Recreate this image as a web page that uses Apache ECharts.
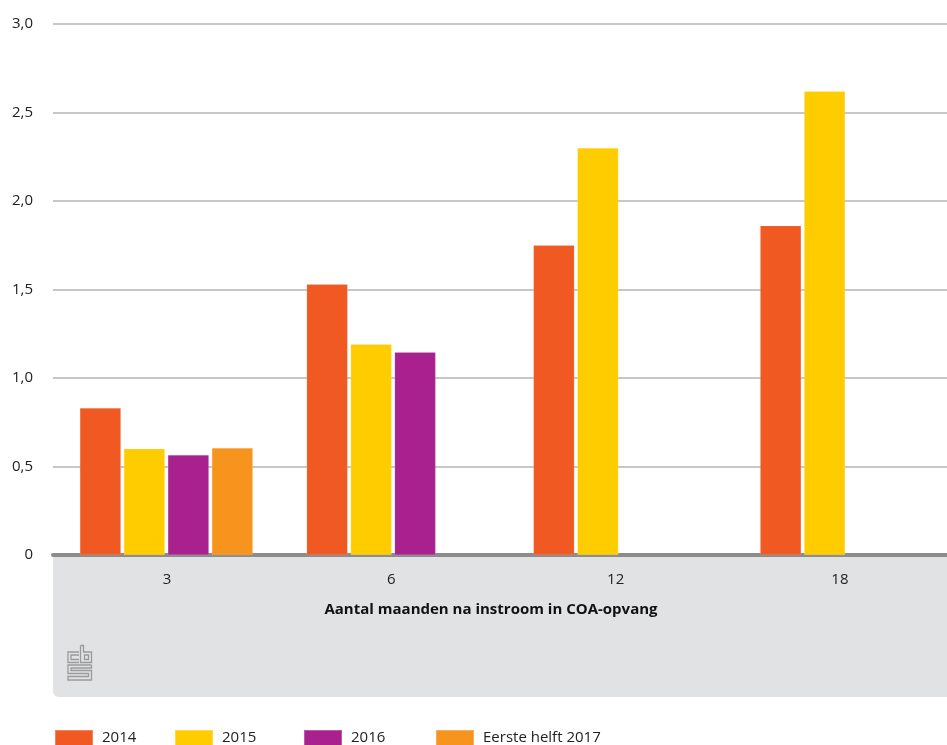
<!DOCTYPE html>
<html><head><meta charset="utf-8">
<script src="https://cdn.jsdelivr.net/npm/echarts@6/dist/echarts.min.js"></script>
<style>html,body{margin:0;padding:0;background:#fff}#c{width:947px;height:745px}</style>
</head><body><div id="c"></div>
<script>
const categories = ['3', '6', '12', '18'];
const s2014 = [0.83, 1.53, 1.75, 1.86];
const s2015 = [0.60, 1.19, 2.30, 2.62];
const s2016 = [0.565, 1.145, null, null];
const s2017 = [0.605, null, null, null];
const seriesNames = ['2014', '2015', '2016', 'Eerste helft 2017'];
const yTicks = [0, 0.5, 1.0, 1.5, 2.0, 2.5, 3.0];
const axisTitle = 'Aantal maanden na instroom in COA-opvang';

const colors = ['#f05a22', '#ffcc00', '#a8218e', '#f7941d'];
const font = '"Open Sans", Roboto, sans-serif';
const chart = echarts.init(document.getElementById('c'), null, {renderer: 'canvas'});
const data = [s2014, s2015, s2016, s2017];
const legendLefts = [54, 174, 303, 435];

const gray = '#e1e2e4';
const logoStroke = '#9a9a9a';
chart.setOption({
  animation: false,
  grid: [
    {left: 53, top: 24, width: 907, height: 531, containLabel: false, outerBoundsMode: 'none'},
    {left: 55, top: 24, width: 897, height: 531, containLabel: false, outerBoundsMode: 'none'}
  ],
  legend: seriesNames.map((n, i) => ({
    data: [n], left: legendLefts[i], top: 729, itemWidth: 38, itemHeight: 16, itemGap: 9, padding: 0,
    icon: 'rect', selectedMode: false,
    textStyle: {fontFamily: font, fontSize: 15, color: '#222', padding: [0, 0, 0, 4]}
  })),
  xAxis: [{
    type: 'category', data: categories, gridIndex: 0,
    axisLine: {show: true, lineStyle: {color: '#8c8c8c', width: 4}},
    axisTick: {show: false},
    axisLabel: {show: false}
  }, {
    type: 'category', data: categories, gridIndex: 1,
    axisLine: {show: false}, axisTick: {show: false}, splitLine: {show: false},
    axisLabel: {fontFamily: font, fontSize: 15, color: '#222', margin: 17}
  }],
  yAxis: [{
    type: 'value', min: 0, max: 3, interval: 0.5, gridIndex: 0,
    axisLine: {show: false}, axisTick: {show: false},
    splitLine: {lineStyle: {color: '#b5b5b5', width: 1.5}},
    axisLabel: {fontFamily: font, fontSize: 15, color: '#222', margin: 20,
      formatter: v => v === 0 ? '0' : (yTicks.includes(v) ? v.toFixed(1).replace('.', ',') : '')}
  }, {
    type: 'value', min: 0, max: 3, gridIndex: 1, show: false
  }],
  series: data.map((d, i) => ({
    name: seriesNames[i], type: 'bar', data: d, barWidth: 41, barGap: '7.3%',
    xAxisIndex: 0, yAxisIndex: 0,
    itemStyle: {color: colors[i], borderColor: 'rgba(255,255,255,0.25)', borderWidth: 0.5}
  })),
  graphic: [
    {type: 'rect', z: -10, shape: {x: 53, y: 557, width: 920, height: 140, r: [0, 0, 0, 6]}, style: {fill: gray}, silent: true},
    {type: 'text', z: 10, style: {text: axisTitle, x: 491, y: 610, align: 'center', verticalAlign: 'middle',
      font: 'bold 15px "Open Sans", sans-serif', fill: '#111'}},
    {type: 'group', z: 10, silent: true, children: [
      {type: 'polyline', shape: {points: [[79, 652], [68, 652], [68, 662.5], [79, 662.5]]}, style: {stroke: logoStroke, lineWidth: 1.3, fill: null}},
      {type: 'polyline', shape: {points: [[79, 655], [71, 655], [71, 659.5], [79, 659.5]]}, style: {stroke: logoStroke, lineWidth: 1.3, fill: null}},
      {type: 'polyline', shape: {points: [[80.5, 645.5], [80.5, 662.5], [91.5, 662.5], [91.5, 652], [83.5, 652], [83.5, 645.5], [80.5, 645.5]]}, style: {stroke: logoStroke, lineWidth: 1.3, fill: null}},
      {type: 'rect', shape: {x: 84.5, y: 655, width: 4, height: 4.5}, style: {stroke: logoStroke, lineWidth: 1.3, fill: null}},
      {type: 'polyline', shape: {points: [[91.5, 665], [68, 665], [68, 673.5], [88.5, 673.5], [88.5, 676.5], [68, 676.5], [68, 680], [91.5, 680], [91.5, 670.5], [71, 670.5], [71, 668], [91.5, 668], [91.5, 665]]}, style: {stroke: logoStroke, lineWidth: 1.3, fill: null}}
    ]}
  ]
});
</script></body></html>
